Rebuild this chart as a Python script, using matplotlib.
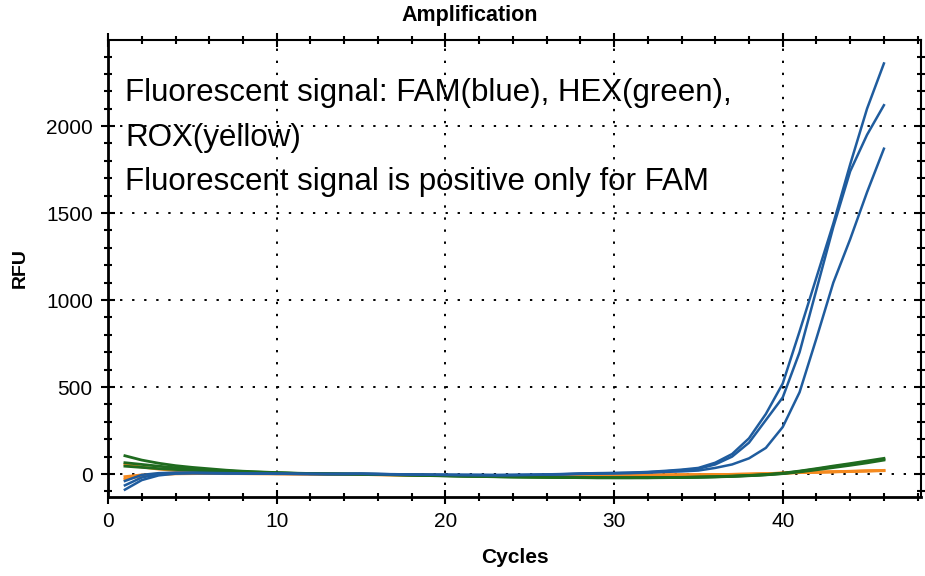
import numpy as np
import matplotlib
matplotlib.use("Agg")
import matplotlib.pyplot as plt
from matplotlib.ticker import MultipleLocator

plt.rcParams['font.family'] = ['Liberation Sans', 'DejaVu Sans']

# qPCR amplification curves, cycles 1..46
cycles = list(range(1, 47))

# FAM (blue) - three positive replicates
fam_a = [-40, -5, 5, 8, 8, 6, 5, 4, 3, 2, 1, 0, 0, 1, 2, 0, -2, -3, -4, -5,
         -5, -6, -6, -5, -4, -2, 0, 3, 5, 6, 8, 12, 18, 25, 35, 65, 115, 205, 345, 520,
         820, 1130, 1440, 1780, 2100, 2360]
fam_b = [-65, -20, 0, 5, 6, 5, 4, 3, 2, 2, 1, 1, 0, 0, 1, 0, -1, -3, -4, -4,
         -5, -5, -6, -6, -5, -3, -1, 2, 4, 5, 7, 10, 15, 22, 30, 55, 100, 180, 310, 440,
         700, 1060, 1420, 1740, 1950, 2120]
fam_c = [-90, -35, -8, 2, 4, 4, 3, 3, 2, 1, 1, 0, 0, 0, 1, 0, -2, -3, -4, -5,
         -6, -6, -7, -6, -5, -4, -2, 0, 2, 4, 5, 8, 12, 15, 20, 35, 55, 90, 150, 270,
         470, 780, 1100, 1350, 1620, 1870]

# HEX (green) - negative
hex_a = [105, 80, 62, 48, 38, 30, 22, 16, 12, 8, 5, 3, 1, 0, -1, -2, -3, -5, -7, -9,
         -11, -13, -15, -16, -17, -18, -19, -20, -20, -21, -21, -21, -20, -20, -18, -16, -13, -9, -4, 3,
         15, 28, 42, 56, 70, 85]
hex_b = [65, 55, 45, 36, 29, 23, 18, 13, 10, 7, 4, 2, 1, 0, -1, -2, -4, -6, -8, -10,
         -12, -14, -15, -17, -18, -19, -20, -21, -22, -22, -22, -22, -21, -20, -19, -17, -14, -10, -5, 2,
         12, 24, 37, 50, 64, 80]
hex_c = [45, 38, 31, 26, 21, 17, 13, 10, 8, 6, 4, 2, 1, 0, -1, -3, -5, -7, -9, -11,
         -13, -14, -16, -17, -18, -19, -20, -20, -21, -21, -21, -20, -20, -19, -17, -15, -12, -8, -3, 5,
         17, 31, 46, 60, 75, 90]

# ROX (orange) - negative
rox_a = [55, 40, 28, 20, 14, 10, 7, 5, 3, 2, 1, 0, -1, -2, -3, -4, -5, -6, -7, -8,
         -8, -9, -9, -9, -9, -9, -8, -8, -7, -7, -6, -6, -5, -5, -4, -3, -2, -1, 1, 5,
         8, 10, 13, 15, 18, 20]
rox_b = [-15, -5, 0, 2, 3, 3, 3, 2, 2, 1, 1, 0, -1, -2, -3, -4, -5, -6, -7, -8,
         -8, -9, -9, -9, -9, -8, -8, -7, -7, -6, -6, -5, -5, -4, -4, -3, -2, -1, 2, 6,
         9, 11, 13, 16, 18, 21]
rox_c = [-30, -12, -3, 1, 2, 3, 2, 2, 1, 1, 0, 0, -1, -2, -3, -4, -5, -6, -7, -8,
         -9, -9, -10, -10, -10, -9, -9, -8, -8, -7, -7, -6, -6, -5, -4, -3, -2, 0, 2, 5,
         8, 10, 12, 14, 17, 19]

fam_color = '#1f5c9e'
hex_color = '#1f6b1f'
rox_color = '#f58a1f'

fig = plt.figure(figsize=(9.25, 5.76), dpi=100)
ax = fig.add_axes([0.1168, 0.1372, 0.8789, 0.7934])

for y in [rox_a, rox_b, rox_c]:
    ax.plot(cycles, y, color=rox_color, lw=2.0)
for y in [hex_a, hex_b, hex_c]:
    ax.plot(cycles, y, color=hex_color, lw=2.0)
for y in [fam_a, fam_b, fam_c]:
    ax.plot(cycles, y, color=fam_color, lw=1.8)

ax.set_xlim(0, 48.2)
ax.set_ylim(-132, 2495)

ax.xaxis.set_major_locator(MultipleLocator(10))
ax.xaxis.set_minor_locator(MultipleLocator(2))
ax.yaxis.set_major_locator(MultipleLocator(500))
ax.yaxis.set_minor_locator(MultipleLocator(100))

ax.grid(True, which='major', color='black', linestyle=(0, (1.2, 5)), lw=1.4)
ax.set_axisbelow(True)

ax.tick_params(which='major', direction='inout', length=10, width=1.5,
               labelsize=15, pad=6, top=True, right=True)
ax.tick_params(which='minor', direction='inout', length=6, width=1.5,
               top=True, right=True)

for s in ['left', 'bottom']:
    ax.spines[s].set_linewidth(2)
for s in ['top', 'right']:
    ax.spines[s].set_linewidth(1.5)

ax.set_xlabel('Cycles', fontsize=15, fontweight='bold', labelpad=12)
ax.set_ylabel('RFU', fontsize=14, fontweight='bold', labelpad=12)

fig.text(470 / 925, 1 - 15 / 576, 'Amplification', fontsize=15.5, fontweight='bold',
         ha='center', va='center')

fig.text(125 / 925, 1 - 78 / 576,
         'Fluorescent signal: FAM(blue), HEX(green),\nROX(yellow)\n'
         'Fluorescent signal is positive only for FAM',
         fontsize=22.5, ha='left', va='top', linespacing=1.64)

fig.savefig('out.png', dpi=100)
